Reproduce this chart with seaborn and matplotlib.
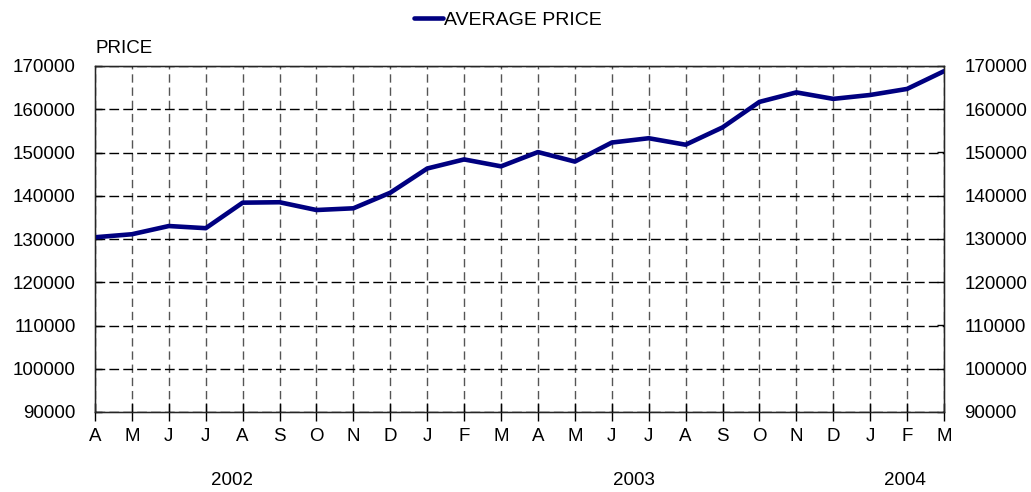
#import packages
import pandas as pd
import matplotlib
matplotlib.use("Agg")
import matplotlib.pyplot as plt
import matplotlib.transforms as mtransforms
import seaborn as sns

#data
months = ["A", "M", "J", "J", "A", "S", "O", "N", "D", "J", "F", "M",
          "A", "M", "J", "J", "A", "S", "O", "N", "D", "J", "F", "M"]
price = [130400, 131100, 133000, 132500, 138400, 138500, 136700, 137100,
         140700, 146300, 148400, 146800, 150100, 147900, 152300, 153300,
         151800, 155800, 161700, 163900, 162400, 163300, 164700, 168800]
years = ["2002", "2003", "2004"]
year_pos = [3.7, 14.6, 21.95]
yticks = list(range(90000, 170001, 10000))

df = pd.DataFrame({"idx": range(len(months)), "price": price})

sns.set_style("white")
plt.rcParams['font.family'] = ['Liberation Sans', 'DejaVu Sans']
plt.rcParams['text.color'] = 'black'

fig = plt.figure(figsize=(10.31, 4.92), dpi=100)
ax = fig.add_axes([95 / 1031, 80 / 492, 849 / 1031, 346 / 492])

sns.lineplot(data=df, x="idx", y="price", color="#000080", linewidth=3.3,
             ax=ax, label="AVERAGE PRICE", legend=False, zorder=5)

ax.set_xlim(0, len(months) - 1)
ax.set_ylim(90000, 170000)
ax.set_xticks(range(len(months)))
ax.set_xticklabels(months)
ax.set_yticks(yticks)
ax.set_yticklabels([str(v) for v in yticks])
ax.set_xlabel("")
ax.set_ylabel("")

#grid
ax.yaxis.grid(True, color="black", linestyle=(0, (7, 3)), linewidth=1)
ax.xaxis.grid(True, color="#555555", linestyle=(0, (6, 3.5)), linewidth=1)
for s in ax.spines.values():
    s.set_color("black")
    s.set_linewidth(1)
    s.set_visible(True)

ax.tick_params(axis="x", direction="inout", length=13, width=1, colors="black",
               labelsize=13.5, pad=5, bottom=True)
ax.tick_params(axis="y", direction="in", length=5, width=1, colors="black",
               labelsize=13.5, pad=14, left=True)

#right axis
ax2 = ax.twinx()
ax2.set_ylim(ax.get_ylim())
ax2.set_yticks(yticks)
ax2.set_yticklabels([str(v) for v in yticks])
ax2.tick_params(axis="y", direction="in", length=5, width=1, colors="black",
                labelsize=13.5, pad=14.5, right=True)
ax2.grid(False)

#labels
ax.text(0.001, 1.025, "PRICE", transform=ax.transAxes, ha="left", va="bottom",
        fontsize=13.5, color="black")
trans = mtransforms.blended_transform_factory(ax.transData, ax.transAxes)
for yr, xp in zip(years, year_pos):
    ax.text(xp, -0.197, yr, transform=trans, ha="center", va="center",
            fontsize=13.5, color="black")

handles, labels = ax.get_legend_handles_labels()
leg = fig.legend(handles, labels, loc="center", bbox_to_anchor=(508 / 1031, 1 - 20 / 492),
                 frameon=False, fontsize=14, handlelength=1.5, handletextpad=0.05)
for t in leg.get_texts():
    t.set_color("black")

plt.savefig("out.png", dpi=100)
